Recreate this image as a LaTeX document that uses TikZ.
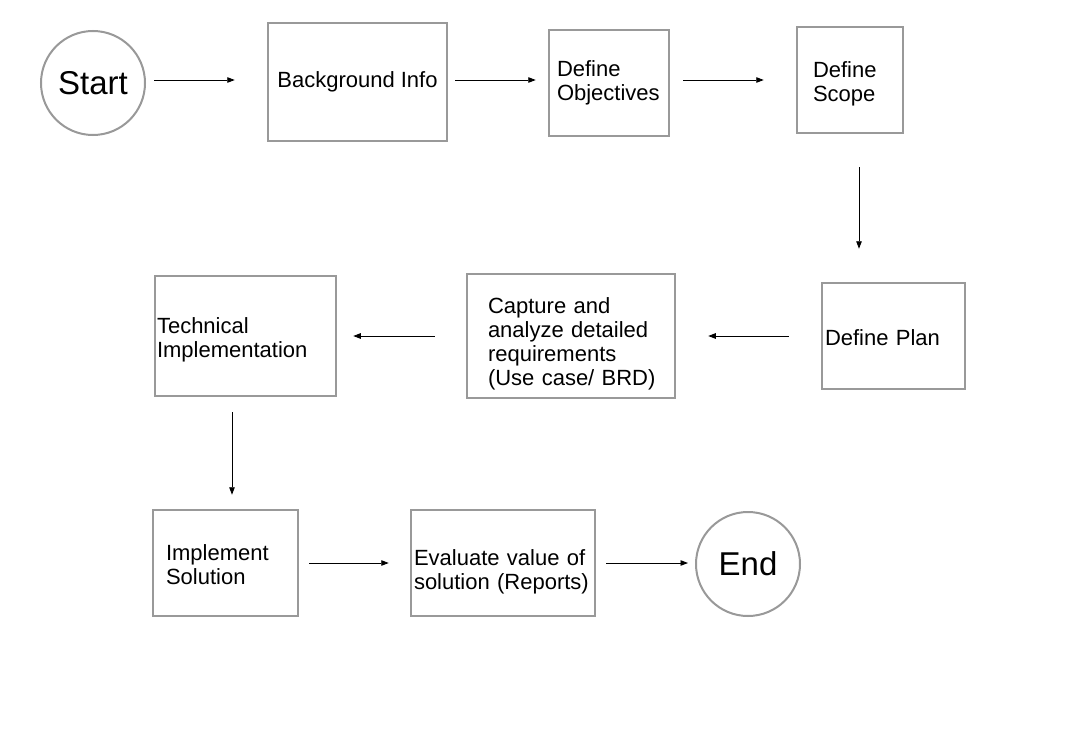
\documentclass[tikz,border=0pt]{standalone}
\usepackage{fontspec}
\setmainfont{Liberation Sans}
\usetikzlibrary{arrows.meta}
\definecolor{boxgray}{HTML}{999999}
\newcommand{\tdn}[1]{\rule{0pt}{#1}}
\begin{document}
\begin{tikzpicture}[x=1pt,y=-1pt,
  box/.style={draw=boxgray, line width=2.5pt, rectangle, inner sep=0pt,
    font=\fontsize{22}{24}\selectfont, align=left},
  term/.style={draw=boxgray, line width=2pt, circle, minimum size=104pt,
    inner sep=0pt, font=\fontsize{33}{36}\selectfont},
  conn/.style={-{Triangle[length=7.5pt,width=5.5pt]}, line width=0.9pt, black}]
\useasboundingbox[fill=white] (0,0) rectangle (1074,752);

\node[term] (start) at (93,83) {Start};
\node[box, align=center, minimum width=179pt, minimum height=118pt] (bg) at (357.5,82) {Background Info};
\node[box, minimum width=120pt, minimum height=106pt, text width=104pt] (obj) at (609,83) {\mbox{Define}\\\mbox{Objectives}};
\node[box, minimum width=106pt, minimum height=106pt, text width=74pt] (scope) at (850,80) {\mbox{\tdn{24pt}Define}\\\mbox{Scope}};
\node[box, minimum width=143pt, minimum height=106pt, text width=137pt] (plan) at (893.5,336) {\mbox{\tdn{20pt}Define Plan}};
\node[box, minimum width=208pt, minimum height=124pt, text width=166pt] (cap) at (571,336) {\mbox{\tdn{32pt}Capture and}\\\mbox{analyze detailed}\\\mbox{requirements}\\\mbox{(Use case/ BRD)}};
\node[box, minimum width=181pt, minimum height=120pt, text width=177pt] (tech) at (245.5,336) {\mbox{\tdn{24pt}Technical}\\\mbox{Implementation}};
\node[box, minimum width=145pt, minimum height=106pt, text width=119pt] (impl) at (225.5,563) {\mbox{\tdn{20pt}Implement}\\\mbox{Solution}};
\node[box, minimum width=184pt, minimum height=106pt, text width=178pt] (eval) at (503,563) {\mbox{\tdn{34pt}Evaluate value of}\\\mbox{solution (Reports)}};
\node[term] (end) at (748,564) {End};

\draw[conn, shorten <=8pt, shorten >=32pt] ([yshift=3pt]start.east) -- ([yshift=3pt]start.east -| bg.west);
\draw[conn, shorten <=7pt, shorten >=12pt] ([yshift=2pt]bg.east) -- ([yshift=2pt]bg.east -| obj.west);
\draw[conn, shorten <=13pt, shorten >=32pt] (obj.east |- scope.west) -- (scope.west);
\draw[conn, shorten <=33pt, shorten >=33pt] ([xshift=9pt]scope.south) -- ([xshift=9pt]scope.south |- plan.north);
\draw[conn, shorten <=32pt, shorten >=32pt] (plan.west) -- (plan.west -| cap.east);
\draw[conn, shorten <=31pt, shorten >=16pt] (cap.west) -- (cap.west -| tech.east);
\draw[conn, shorten <=15pt, shorten >=14pt] ([xshift=-13.5pt]tech.south) -- ([xshift=-13.5pt]tech.south |- impl.north);
\draw[conn, shorten <=10pt, shorten >=21pt] (impl.east) -- (eval.west);
\draw[conn, shorten <=10pt, shorten >=7pt] (eval.east) -- (eval.east -| end.west);
\end{tikzpicture}
\end{document}
